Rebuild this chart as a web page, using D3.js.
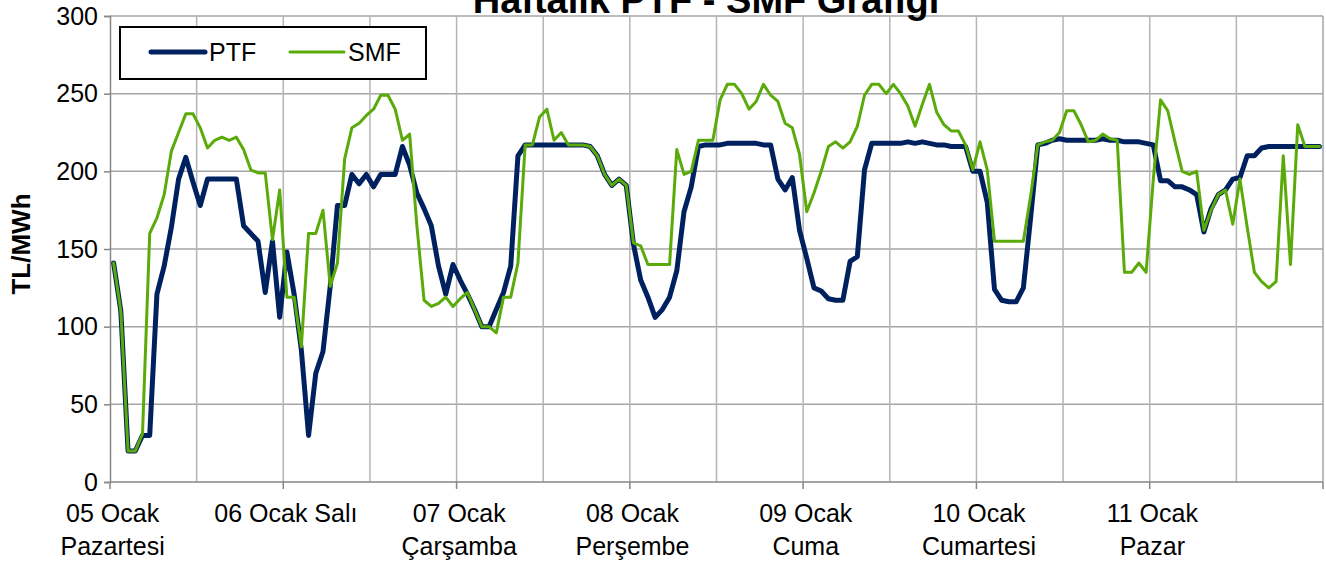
<!DOCTYPE html>
<html><head><meta charset="utf-8">
<script src="https://cdn.jsdelivr.net/npm/d3@7"></script>
<style>
html,body{margin:0;padding:0;background:#fff;}
svg{display:block;}
text{font-family:"Liberation Sans",Arial,sans-serif;fill:#000;}
</style></head>
<body><svg id="c" width="1326" height="563"></svg>
<script>
// Hourly PTF values (TL/MWh), 05-11 Ocak, 168 hours
const ptf = [
141,110,20,20,30,30,121,139,164,195,209,193,178,195,195,195,195,195,165,160,155,122,155,106,
148,121,85,30,70,84,126,178,178,198,192,198,190,198,198,198,216,204,186,176,165,139,121,140,
130,121,111,100,100,111,122,139,210,217,217,217,217,217,217,217,217,217,216,210,198,191,195,191,
153,130,119,106,111,119,136,174,190,216,217,217,217,218,218,218,218,218,217,217,195,188,196,162,
144,125,123,118,117,117,142,145,201,218,218,218,218,218,219,218,219,218,217,217,216,216,216,200,
200,180,124,117,116,116,125,170,217,218,220,221,220,220,220,220,220,221,220,220,219,219,219,218,
217,194,194,190,190,188,185,161,176,185,188,195,196,210,210,215,216,216,216,216,216,216,216,216
];
// Hourly SMF values (TL/MWh)
const smf = [
141,110,20,20,31,160,170,185,213,225,237,237,228,215,220,222,220,222,214,201,199,199,156,188,
119,119,87,160,160,175,126,141,208,228,231,236,240,249,249,240,220,224,165,117,113,115,119,113,
118,122,111,100,100,96,119,119,141,217,217,235,240,220,225,217,217,217,216,210,198,191,195,191,
154,152,140,140,140,140,214,198,200,220,220,220,246,256,256,250,240,245,256,249,245,231,228,211,
174,186,200,216,219,215,219,229,249,256,256,250,256,250,242,229,243,256,238,230,226,226,217,201,
219,201,155,155,155,155,155,184,217,219,220,225,239,239,230,219,220,224,221,220,135,135,141,135,
195,246,239,219,200,198,200,162,175,185,188,166,195,164,135,129,125,129,210,140,230,216,216,216
];
const dayLabels = [
  ["05 Ocak","Pazartesi"],
  ["06 Ocak Salı"],
  ["07 Ocak","Çarşamba"],
  ["08 Ocak","Perşembe"],
  ["09 Ocak","Cuma"],
  ["10 Ocak","Cumartesi"],
  ["11 Ocak","Pazar"]
];
const yTicks = [0,50,100,150,200,250,300];
const seriesNames = ["PTF","SMF"];
const seriesColors = ["#00215f","#5aab0a"];

const svg = d3.select("#c");
const L = 110, R = 1323, T = 16, B = 482;
const hours = d3.range(ptf.length);
const x = d3.scaleBand().domain(hours).range([L, R]).padding(0);
const bw = x.bandwidth();
const cx = i => x(i) + bw / 2;
const y = d3.scaleLinear().domain([0, 300]).range([B, T]);

// grid
const g = svg.append("g");
g.selectAll("line.h").data(yTicks.filter(v => v > 0)).enter().append("line")
  .attr("x1", L).attr("x2", R).attr("y1", d => y(d)).attr("y2", d => y(d))
  .attr("stroke", "#a5a5a5").attr("stroke-width", 1.5);
const vgrid = hours.filter(i => i % 12 === 0 && i > 0);
g.selectAll("line.v").data(vgrid).enter().append("line")
  .attr("x1", d => x(d)).attr("x2", d => x(d)).attr("y1", T).attr("y2", B)
  .attr("stroke", "#b5b5b5").attr("stroke-width", 1.5);
g.append("line").attr("x1", R).attr("x2", R).attr("y1", T).attr("y2", B)
  .attr("stroke", "#a5a5a5").attr("stroke-width", 1.5);

// y axis
const yAxis = svg.append("g").attr("transform", `translate(${L},0)`)
  .call(d3.axisLeft(y).tickValues(yTicks).tickSize(6).tickPadding(6).tickFormat(d3.format("d")));
yAxis.select(".domain").attr("stroke", "#868686").attr("stroke-width", 1.5);
yAxis.selectAll(".tick line").attr("stroke", "#868686").attr("stroke-width", 1.5);
yAxis.selectAll(".tick text").attr("font-size", 25).attr("font-family", "Liberation Sans, Arial, sans-serif").attr("fill", "#000");

// x axis
const dayStarts = d3.range(0, 169, 24);
svg.append("line").attr("x1", L).attr("x2", R).attr("y1", B).attr("y2", B)
  .attr("stroke", "#868686").attr("stroke-width", 1.5);
svg.selectAll("line.xt").data(dayStarts).enter().append("line")
  .attr("x1", d => d < 168 ? x(d) : R).attr("x2", d => d < 168 ? x(d) : R)
  .attr("y1", B).attr("y2", B + 7).attr("stroke", "#868686").attr("stroke-width", 1.5);
dayLabels.forEach((lines, k) => {
  const t = svg.append("text").attr("text-anchor", "middle").attr("font-size", 25);
  lines.forEach((s, j) => {
    t.append("tspan").attr("x", cx(k * 24) - 1).attr("y", 522 + j * 33).text(s);
  });
});

// lines
const lineGen = d3.line().x((d, i) => cx(i)).y(d => y(d));
svg.append("path").datum(ptf).attr("d", lineGen).attr("fill", "none")
  .attr("stroke", seriesColors[0]).attr("stroke-width", 5).attr("stroke-linejoin", "round").attr("stroke-linecap", "round");
svg.append("path").datum(smf).attr("d", lineGen).attr("fill", "none")
  .attr("stroke", seriesColors[1]).attr("stroke-width", 3).attr("stroke-linejoin", "round").attr("stroke-linecap", "round");

// title
svg.append("text").attr("x", 706).attr("y", 13).attr("text-anchor", "middle")
  .attr("font-size", 38).attr("font-weight", "bold").text("Haftalık PTF - SMF Grafiği");

// y title
svg.append("text").attr("transform", "translate(30,244) rotate(-90)").attr("text-anchor", "middle")
  .attr("font-size", 26).attr("font-weight", "bold").text("TL/MWh");

// legend
const lg = svg.append("g");
lg.append("rect").attr("x", 120).attr("y", 27).attr("width", 306).attr("height", 52)
  .attr("fill", "#fff").attr("stroke", "#000").attr("stroke-width", 2);
const legX = [151, 290];
seriesNames.forEach((n, k) => {
  lg.append("line").attr("x1", legX[k]).attr("x2", legX[k] + 54).attr("y1", 52).attr("y2", 52)
    .attr("stroke", seriesColors[k]).attr("stroke-width", k === 0 ? 5 : 3).attr("stroke-linecap", "round");
  lg.append("text").attr("x", legX[k] + 58).attr("y", 61).attr("font-size", 25).text(n);
});
</script></body></html>
